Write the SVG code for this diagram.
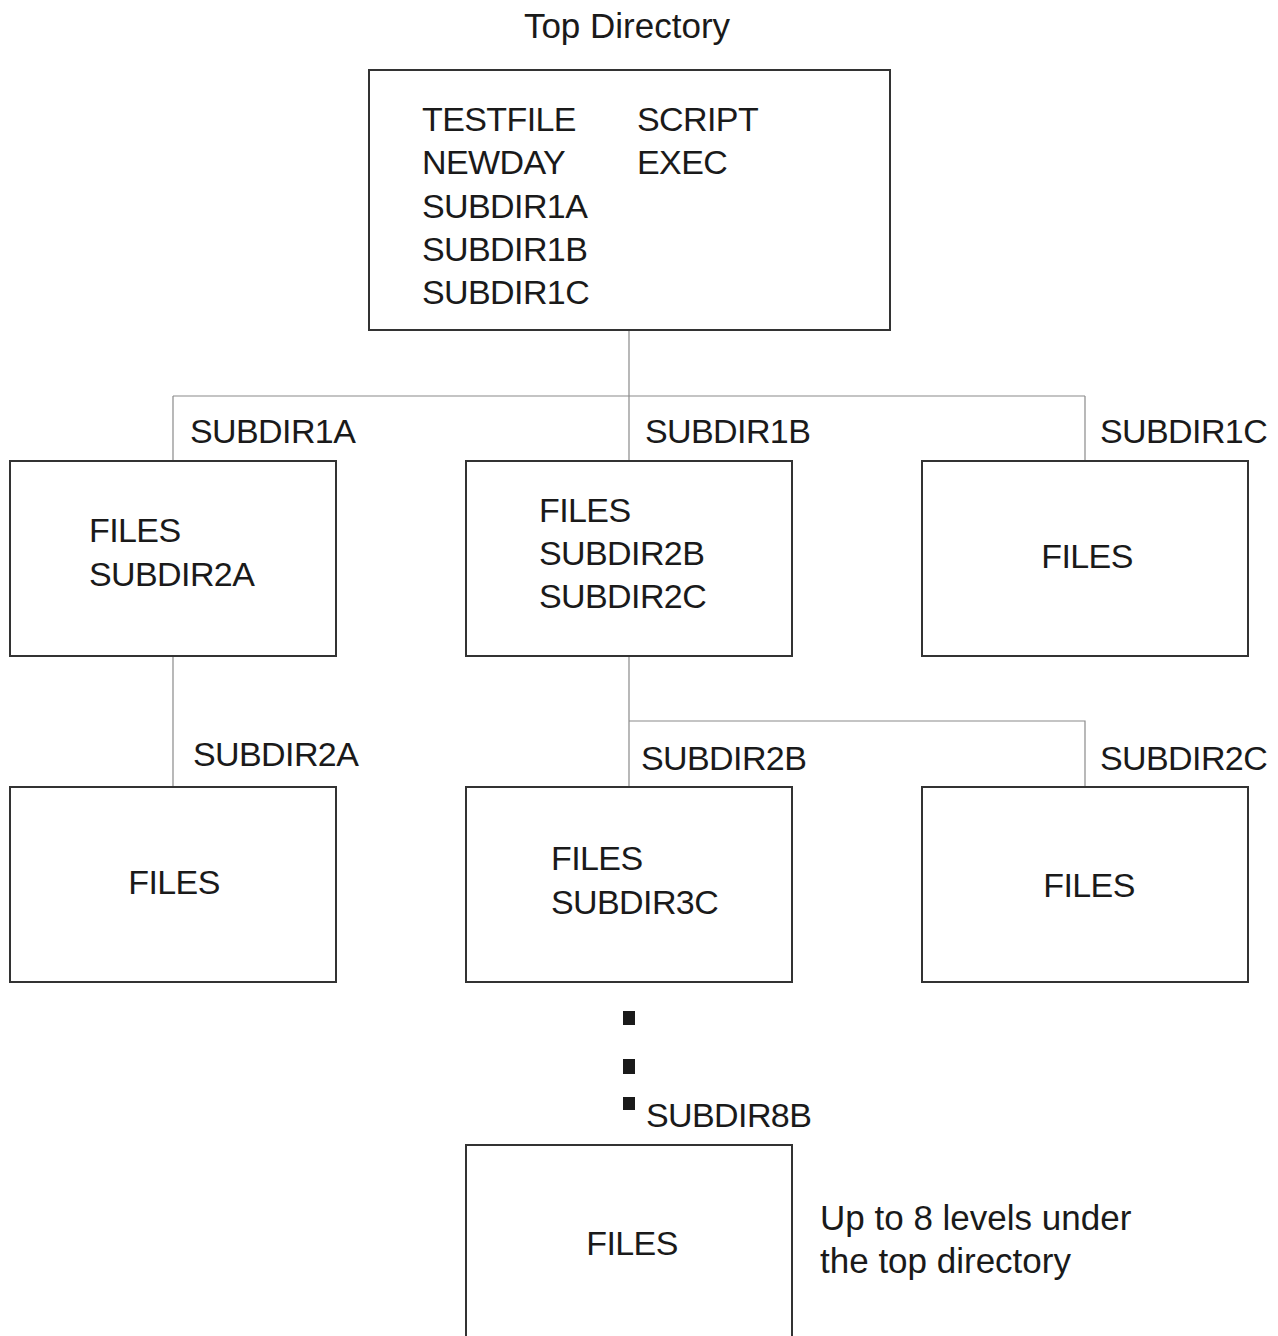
<svg xmlns="http://www.w3.org/2000/svg" width="1278" height="1336" viewBox="0 0 1278 1336">
<style>
.box{fill:#fff;stroke:#333;stroke-width:2}
.t{font-family:"Liberation Sans",Arial,sans-serif;font-size:34px;fill:#1a1a1a;letter-spacing:-0.6px}
.l{font-size:35px;letter-spacing:0}
.m{text-anchor:middle}
.c{fill:none;stroke:#8a8a8a;stroke-width:1.2}
.dot{fill:#1a1a1a}
</style>
<rect width="1278" height="1336" fill="#fff"/>
<g id="connectors">
<path class="c" d="M629 330V396M173 396H1085M173 396V461M629 396V461M1085 396V461"/>
<path class="c" d="M173 656V787M629 656V787M629 721H1085V787"/>
</g>
<g id="labels">
<text class="t l m" x="627" y="38">Top Directory</text>
<text class="t" x="190" y="443">SUBDIR1A</text>
<text class="t" x="645" y="443">SUBDIR1B</text>
<text class="t" x="1100" y="443">SUBDIR1C</text>
<text class="t" x="193" y="766">SUBDIR2A</text>
<text class="t" x="641" y="770">SUBDIR2B</text>
<text class="t" x="1100" y="770">SUBDIR2C</text>
<rect class="dot" x="623" y="1011" width="12" height="14"/>
<rect class="dot" x="623" y="1059" width="12" height="15"/>
<rect class="dot" x="623" y="1097" width="12" height="13"/>
<text class="t" x="646" y="1127">SUBDIR8B</text>
<text class="t l" x="820" y="1230">Up to 8 levels under</text>
<text class="t l" x="820" y="1273">the top directory</text>
</g>
<g id="top">
<rect class="box" x="369" y="70" width="521" height="260"/>
<text class="t" x="422" y="131">TESTFILE</text>
<text class="t" x="422" y="174">NEWDAY</text>
<text class="t" x="422" y="218">SUBDIR1A</text>
<text class="t" x="422" y="261">SUBDIR1B</text>
<text class="t" x="422" y="304">SUBDIR1C</text>
<text class="t" x="637" y="131">SCRIPT</text>
<text class="t" x="637" y="174">EXEC</text>
</g>
<g id="sub1a">
<rect class="box" x="10" y="461" width="326" height="195"/>
<text class="t" x="89" y="542">FILES</text>
<text class="t" x="89" y="586">SUBDIR2A</text>
</g>
<g id="sub1b">
<rect class="box" x="466" y="461" width="326" height="195"/>
<text class="t" x="539" y="522">FILES</text>
<text class="t" x="539" y="565">SUBDIR2B</text>
<text class="t" x="539" y="608">SUBDIR2C</text>
</g>
<g id="sub1c">
<rect class="box" x="922" y="461" width="326" height="195"/>
<text class="t m" x="1087" y="568">FILES</text>
</g>
<g id="sub2a">
<rect class="box" x="10" y="787" width="326" height="195"/>
<text class="t m" x="174" y="894">FILES</text>
</g>
<g id="sub2b">
<rect class="box" x="466" y="787" width="326" height="195"/>
<text class="t" x="551" y="870">FILES</text>
<text class="t" x="551" y="914">SUBDIR3C</text>
</g>
<g id="sub2c">
<rect class="box" x="922" y="787" width="326" height="195"/>
<text class="t m" x="1089" y="897">FILES</text>
</g>
<g id="sub8b">
<rect class="box" x="466" y="1145" width="326" height="200"/>
<text class="t m" x="632" y="1255">FILES</text>
</g>
</svg>
